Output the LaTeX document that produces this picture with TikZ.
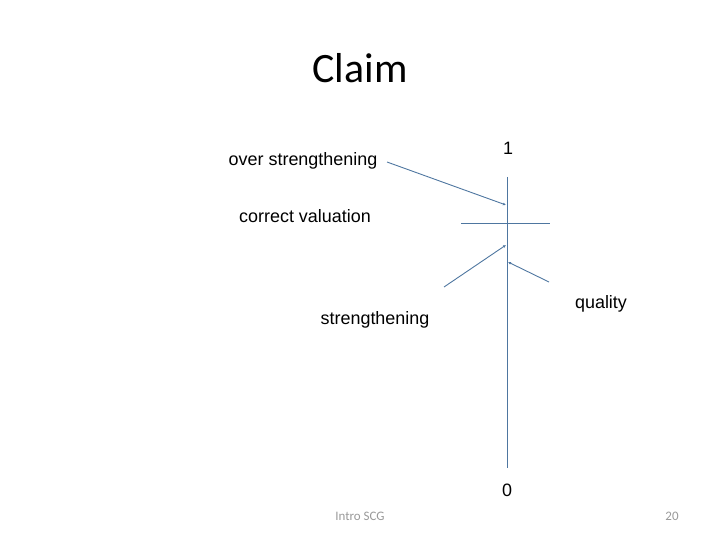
\documentclass[tikz,border=0pt]{standalone}
\usepackage{fontspec}
\setmainfont{Liberation Sans}
\newfontfamily\calfont{Carlito}
\usetikzlibrary{arrows.meta}
\definecolor{lineblue}{HTML}{4E76A0}
\tikzset{
  scale line/.style={draw=lineblue,line width=0.9pt},
  pointer/.style={draw=lineblue,line width=0.9pt,-{Latex[length=3pt,width=3pt]}},
  label text/.style={font=\fontsize{18}{20}\selectfont,inner sep=0pt},
  footer/.style={font=\calfont\fontsize{13}{15}\selectfont,text=gray!80,inner sep=0pt}
}
\begin{document}
\begin{tikzpicture}
[x=1bp,y=-1bp]
\useasboundingbox (0,0) rectangle (720,540);
\node[font=\calfont\fontsize{42}{48}\selectfont,inner sep=0pt] (claim) at (360,68) {Claim};
% the scale
\coordinate (top) at (507,177);
\coordinate (bottom) at (507,468);
\draw[scale line] (top)--(bottom);
\coordinate (midleft) at (461,223);
\coordinate (midright) at (550,223);
\draw[scale line] (midleft)--(midright);
\node[label text] (one) at (508,148) {1};
\node[label text] (zero) at (507,490) {0};
% the pointers
\coordinate (overstart) at (387,162);
\coordinate (overend) at (506,205);
\coordinate (strstart) at (444,287);
\coordinate (strend) at (506,245);
\coordinate (qualstart) at (549,282);
\coordinate (qualend) at (508,262);
\draw[pointer] (overstart)--(overend);
\draw[pointer] (strstart)--(strend);
\draw[pointer] (qualstart)--(qualend);
\node[label text] (over) at (303,161) {over strengthening};
\node[label text] (correct) at (305,216) {correct valuation};
\node[label text] (streng) at (375,320) {strengthening};
\node[label text] (quality) at (601,304) {quality};
% footer
\node[footer] (intro) at (360,516) {Intro SCG};
\node[footer] (page) at (672,516) {20};
\end{tikzpicture}
\end{document}
